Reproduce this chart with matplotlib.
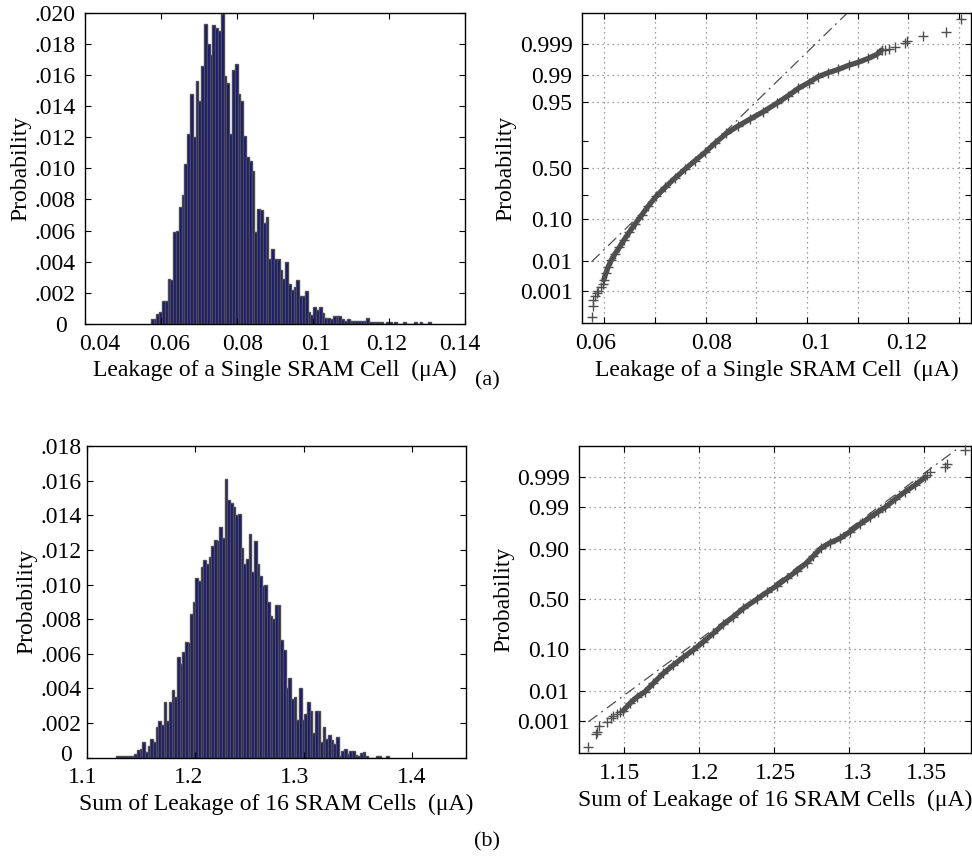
import numpy as np
import matplotlib.pyplot as plt
from matplotlib.transforms import ScaledTranslation
from statistics import NormalDist

plt.rcParams['font.family'] = ['Liberation Serif', 'DejaVu Serif']
plt.rcParams['font.size'] = 17

# ---- (a) leakage of a single SRAM cell: histogram, 100 bins ----
single_start = 0.0573
single_width = 0.000737
single_prob = [
    0.0003, 0.00035, 0.00065, 0.0008, 0.0015, 0.0015, 0.0029, 0.0028, 0.0059, 0.0060,
    0.0075, 0.0083, 0.0103, 0.0122, 0.0148, 0.0120, 0.0156, 0.0143, 0.0166, 0.0193,
    0.0180, 0.0173, 0.0192, 0.0190, 0.0188, 0.0199, 0.0159, 0.0155, 0.0122, 0.0163,
    0.0167, 0.0148, 0.0143, 0.0121, 0.0107, 0.0105, 0.0098, 0.0059, 0.0074, 0.0073,
    0.0065, 0.0069, 0.0042, 0.0048, 0.0042, 0.0042, 0.0035, 0.0029, 0.0040, 0.0026,
    0.0022, 0.0024, 0.0028, 0.0018, 0.0018, 0.0021, 0.0008, 0.0006, 0.0011, 0.0009,
    0.0011, 0.0007, 0.0004, 0.0004, 0.0003, 0.0005, 0.0005, 0.0005, 0.0003, 0.0002,
    0.0003, 0.0002, 0.0002, 0.0002, 0.0002, 0.0002, 0.0002, 0.0004, 0.0001, 0.0001,
    0.0001, 0.0001, 0.0001, 0, 0.0001, 0.0001, 0, 0.0001, 0, 0,
    0.0001, 0, 0, 0, 0.0001, 0, 0.0001, 0, 0, 0.0001]

# normal probability plot (x in uA, normal score)
single_x_dense = [0.0599, 0.0603, 0.0608, 0.0614, 0.0621, 0.0630, 0.0639, 0.0649, 0.0661,
                  0.0674, 0.0687, 0.0703, 0.0720, 0.0739, 0.0759, 0.0779, 0.0799, 0.0818,
                  0.0841, 0.0864, 0.0888, 0.0914, 0.0940, 0.0963, 0.0983, 0.1003, 0.1022,
                  0.1042, 0.1062, 0.1082, 0.1101, 0.1121, 0.1138, 0.1147]
single_z_dense = [-2.815, -2.648, -2.481, -2.314, -2.164, -1.997, -1.813, -1.621, -1.412,
                  -1.186, -0.961, -0.710, -0.493, -0.267, -0.042, 0.175, 0.384, 0.610,
                  0.860, 1.044, 1.220, 1.404, 1.612, 1.805, 1.988, 2.130, 2.281,
                  2.381, 2.464, 2.565, 2.640, 2.740, 2.840, 2.949]
single_x_tail = [0.0575, 0.0577, 0.0578, 0.0582, 0.0585, 0.0588, 0.0593, 0.0597,
                 0.1154, 0.1161, 0.1174, 0.1193, 0.1197, 0.1228, 0.1274, 0.1303]
single_z_tail = [-3.734, -3.467, -3.317, -3.216, -3.150, -3.083, -2.999, -2.916,
                 2.949, 2.974, 3.033, 3.116, 3.183, 3.300, 3.409, 3.726]
single_ref_x = [0.0575, 0.1079]
single_ref_z = [-2.36, 3.87]

# ---- (b) sum of leakage of 16 SRAM cells ----
sum_start = 1.1267
sum_width = 0.00245
sum_prob = [
    0.0001, 0.0001, 0.0001, 0.0001, 0.0001, 0.0001, 0.0001,
    0.0002, 0.00045, 0.0005, 0.0009, 0.0003, 0.0007, 0.0011, 0.0009, 0.0018, 0.0021,
    0.0019, 0.0032, 0.0021, 0.0032, 0.0039, 0.0035, 0.0058, 0.0054, 0.0061, 0.0067,
    0.0066, 0.0083, 0.0090, 0.0104, 0.0102, 0.0110, 0.0114, 0.0112, 0.0116, 0.0122,
    0.0126, 0.0125, 0.0133, 0.0127, 0.0161, 0.0149, 0.0147, 0.0145,
    0.0140, 0.0141, 0.0121, 0.0112, 0.0115, 0.0129, 0.0107, 0.0125, 0.0112, 0.0105,
    0.0099, 0.0100, 0.0090, 0.0082, 0.0080, 0.0088, 0.0088,
    0.0068, 0.0062, 0.0040, 0.0046, 0.0034, 0.0035, 0.0022, 0.0040, 0.0022, 0.0025,
    0.0032, 0.0027, 0.0014, 0.0027, 0.0027, 0.0009, 0.0018, 0.0011, 0.0013, 0.0010,
    0.0008, 0.0012, 0.0001, 0.0004, 0.0005, 0.0002, 0.0004, 0.0004, 0.00015, 0.0001,
    0.00025, 0.0003,
    0.0001, 0, 0, 0, 0.0001, 0.0001, 0, 0, 0.0001]

sum_x_dense = [1.1493, 1.1538, 1.1582, 1.1638, 1.1693, 1.1760, 1.1827, 1.1893, 1.1960,
               1.2027, 1.2093, 1.2160, 1.2227, 1.2293, 1.2382, 1.2449, 1.2516, 1.2582,
               1.2649, 1.2716, 1.2760, 1.2809, 1.2871, 1.2938, 1.3004, 1.3071, 1.3138,
               1.3193, 1.3238, 1.3304, 1.3371, 1.3438, 1.3504]
sum_z_dense = [-2.837, -2.650, -2.498, -2.354, -2.142, -1.888, -1.677, -1.482, -1.295,
               -1.084, -0.872, -0.644, -0.449, -0.237, -0.008, 0.169, 0.339, 0.525,
               0.711, 0.923, 1.092, 1.287, 1.431, 1.541, 1.711, 1.905, 2.075,
               2.218, 2.329, 2.532, 2.726, 2.896, 3.091]
sum_x_tail = [1.1260, 1.1311, 1.1320, 1.1333, 1.1382, 1.1409, 1.1427, 1.1449, 1.1471,
              1.3516, 1.3538, 1.3638, 1.3649, 1.3771]
sum_z_tail = [-3.751, -3.429, -3.370, -3.226, -3.116, -3.014, -2.972, -2.921, -2.862,
              3.150, 3.218, 3.362, 3.421, 3.785]
sum_ref_x = [1.1260, 1.3749]
sum_ref_z = [-3.12, 3.90]

bar_face = '#12127e'
bar_edge = '#4d4d4d'
pt_color = '#4f4f4f'
nd = NormalDist()

fig = plt.figure(figsize=(9.72, 8.61), dpi=100)


def nudge(labels, dx, dy=None):
    # shift tick labels by a few pixels, as they sit in the original figure
    dy = dy or [0] * len(dx)
    for lab, x, y in zip(labels, dx, dy):
        lab.set_transform(lab.get_transform() +
                          ScaledTranslation(x / 100, y / 100, fig.dpi_scale_trans))


def style_axes(ax, ypad):
    ax.tick_params(direction='in', top=True, right=True, length=4, width=0.8, pad=7)
    ax.tick_params(axis='y', pad=ypad)
    for s in ax.spines.values():
        s.set_linewidth(1.0)


def plot_hist(ax, start, width, probs, xlim, ylim, xticks, xlabels, yticks, xlabel, ypad):
    left = start + width * np.arange(len(probs))
    ax.bar(left, probs, width=width, align='edge', color=bar_face,
           edgecolor=bar_edge, linewidth=1.0)
    ax.set_xlim(*xlim)
    ax.set_ylim(*ylim)
    ax.set_xticks(xticks)
    ax.set_xticklabels(xlabels)
    ax.set_yticks(yticks)
    ax.set_yticklabels(['0'] + [('%.3f' % v)[1:] for v in yticks[1:]])
    ax.set_xlabel(xlabel, labelpad=4)
    ax.set_ylabel('Probability', labelpad=2)
    style_axes(ax, ypad)


def plot_norm(ax, xd, zd, xt, zt, rx, rz, xlim, ylim, xticks, xlabels, probs, xlabel, minor=None):
    ax.plot(xd, zd, '-', color=pt_color, lw=3.8, solid_capstyle='round', zorder=3)
    ax.plot(xd, zd, '+', color=pt_color, ms=7, mew=1.0, zorder=3)
    ax.plot(xt, zt, '+', color=pt_color, ms=7, mew=1.0, zorder=3, clip_on=False)
    ax.plot(rx, rz, color=pt_color, lw=0.9, linestyle=(0, (9, 4, 1.5, 4)), zorder=2)
    ax.set_xlim(*xlim)
    ax.set_ylim(*ylim)
    ax.set_xticks(xticks)
    ax.set_xticklabels(xlabels)
    ax.set_yticks([nd.inv_cdf(p) for p in probs])
    ax.set_yticklabels([str(p) if p not in (0.1, 0.5, 0.9) else '%.2f' % p for p in probs])
    if minor:
        ax.set_yticks([nd.inv_cdf(p) for p in minor], minor=True)
        ax.tick_params(which='minor', direction='in', right=True, length=4, width=0.8)
    ax.grid(True, which='major', linestyle=(0, (1, 3)), color='#808080', lw=0.9)
    ax.set_xlabel(xlabel, labelpad=4)
    ax.set_ylabel('Probability', labelpad=2)
    style_axes(ax, 7)


ax1 = fig.add_axes([0.0875, 0.6237, 0.3909, 0.3616])
plot_hist(ax1, single_start, single_width, single_prob, (0.04, 0.14), (0, 0.020),
          [0.04, 0.06, 0.08, 0.1, 0.12, 0.14], ['0.04', '0.06', '0.08', '0.1', '0.12', '0.14'],
          [0, 0.002, 0.004, 0.006, 0.008, 0.010, 0.012, 0.014, 0.016, 0.018, 0.020],
          'Leakage of a Single SRAM Cell  (\u03bcA)', 7)
nudge(ax1.get_xticklabels(), [14.5, 8.7, 6.0, 3.0, -2.7, -5.5])
nudge(ax1.get_yticklabels()[:1], [-8])

ax2 = fig.add_axes([0.599, 0.6245, 0.3997, 0.3600])
plot_norm(ax2, single_x_dense, single_z_dense, single_x_tail, single_z_tail,
          single_ref_x, single_ref_z, (0.05566, 0.1323), (-3.90, 3.868),
          [0.06, 0.07, 0.08, 0.09, 0.1, 0.11, 0.12, 0.13],
          ['0.06', '', '0.08', '', '0.1', '', '0.12', ''],
          [0.001, 0.01, 0.10, 0.50, 0.95, 0.99, 0.999],
          'Leakage of a Single SRAM Cell  (\u03bcA)', minor=[0.25, 0.75])
nudge(ax2.get_xticklabels(), [-9, 0, 6, 0, 9, 0, -2, 0])

ax3 = fig.add_axes([0.0895, 0.120, 0.3899, 0.362])
plot_hist(ax3, sum_start, sum_width, sum_prob, (1.1, 1.45), (0, 0.018),
          [1.1, 1.2, 1.3, 1.4], ['1.1', '1.2', '1.3', '1.4'],
          [0, 0.002, 0.004, 0.006, 0.008, 0.010, 0.012, 0.014, 0.016, 0.018],
          'Sum of Leakage of 16 SRAM Cells  (\u03bcA)', 4)
nudge(ax3.get_xticklabels(), [-4, -7, -9, 0])
nudge(ax3.get_yticklabels()[:1], [-10], [5])

ax4 = fig.add_axes([0.596, 0.1251, 0.4027, 0.3572])
plot_norm(ax4, sum_x_dense, sum_z_dense, sum_x_tail, sum_z_tail,
          sum_ref_x, sum_ref_z, (1.120, 1.3809), (-3.92, 3.895),
          [1.15, 1.2, 1.25, 1.3, 1.35], ['1.15', '1.2', '1.25', '1.3', '1.35'],
          [0.001, 0.01, 0.10, 0.50, 0.90, 0.99, 0.999],
          'Sum of Leakage of 16 SRAM Cells  (\u03bcA)')
nudge(ax4.get_xticklabels(), [-5, 5, 1, 8, 2])

fig.text(0.501, 0.5575, '(a)', ha='center', va='center', fontsize=16)
fig.text(0.501, 0.022, '(b)', ha='center', va='center', fontsize=16)

fig.savefig('out.png', dpi=100)
